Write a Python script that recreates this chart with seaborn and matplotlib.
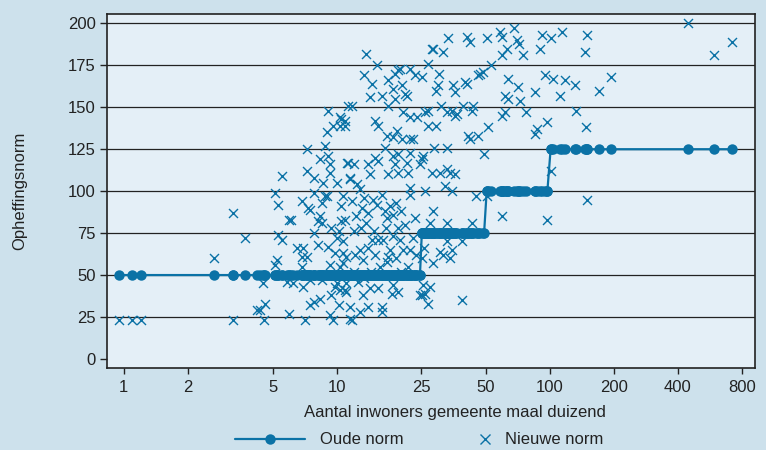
import matplotlib
matplotlib.use("Agg")
import matplotlib.pyplot as plt
import pandas as pd
import seaborn as sns
from matplotlib.lines import Line2D
from matplotlib.ticker import NullLocator

# Old norm classes (a step per population class)
oude_klassen = [50, 75, 100, 125]

# Inhabitants (x 1000) and new norm, grouped by old norm class
inwoners_50 = [
    0.95, 1.10, 1.20, 3.27, 2.66, 3.27, 3.71, 4.52, 4.21, 4.36, 4.60, 4.57,
    9.13, 10.4, 10.9, 9.6, 10.4, 10.9, 8.98, 8.81, 7.23, 9.13, 8.35, 9.3, 11.2, 7.23, 9.3, 5.53, 7.8, 11.3,
    8.66, 10.0, 5.12, 7.8, 8.98, 5.31, 6.85, 7.36, 7.5, 8.5, 8.8, 10.7, 10.5, 6.0, 6.07, 8.35, 8.2, 8.5, 10.5, 10.9,
    9.45, 10.2, 5.31, 5.53, 7.8, 8.2, 9.13, 10.0, 10.7, 6.48, 6.97, 6.85, 7.23, 5.22, 9.78, 10.7, 5.12, 6.85, 9.3, 10.4,
    5.84, 6.24, 6.97, 7.5, 8.5, 9.78, 10.4, 10.9, 9.45, 7.5, 7.8, 8.35, 5.95, 10.2, 9.3, 7.08, 9.6, 10.0,
    13.7, 15.5, 13.5, 14.6, 17.4, 19.4, 18.8, 22.1, 23.3, 18.4, 20.2, 20.9, 21.3, 14.3, 16.3, 18.8, 17.4, 11.8, 19.8,
    10.5, 15.1, 15.7, 20.5, 22.1, 23.7, 17.2, 18.4, 19.1, 20.2, 22.1, 22.9, 16.8,
    11.3, 12.0, 14.0, 15.1, 15.7, 18.4, 19.4, 22.1, 18.8, 21.3, 24.6, 14.3, 17.4, 19.4, 21.7, 11.5,
    11.5, 22.1, 22.1, 16.3, 12.9, 11.8, 13.1, 14.0, 15.4, 17.8, 18.4, 17.2, 23.3, 13.8, 12.0,
    14.6, 15.7, 16.5, 18.4, 19.8, 20.5, 22.1, 17.8, 12.9, 12.2, 13.3, 11.1, 10.7, 17.4, 17.2, 22.9, 21.7, 16.0,
    11.1, 12.6, 14.3, 15.7, 18.4, 19.4, 11.1, 13.3, 18.1, 24.6, 12.9, 14.0, 16.3, 16.3, 11.5, 11.8, 11.5,
    12.5, 13.5, 14.8, 16.8, 19.0, 20.0, 21.0, 12.3, 13.0, 15.0, 17.0, 19.5, 14.0, 15.2, 19.0, 23.5, 12.0, 14.5, 20.0, 13.5,
]
nieuw_50 = [
    23, 23, 23, 23, 60, 87, 72, 45, 29, 29, 33, 23,
    148, 144, 142, 139, 139, 139, 135, 127, 125, 121, 119, 116, 117, 112, 111, 109, 108, 151,
    105, 105, 99, 99, 97, 92, 94, 90, 89, 93, 97, 97, 91, 83, 83, 85, 82, 81, 82, 83,
    78, 76, 74, 71, 75, 68, 67, 72, 70, 66, 66, 61, 61, 59, 63, 63, 56, 55, 56, 55,
    46, 45, 43, 47, 47, 43, 41, 41, 38, 32, 34, 36, 27, 32, 26, 23, 23, 45,
    182, 175, 169, 164, 166, 172, 170, 173, 169, 161, 163, 158, 157, 156, 157, 155, 151, 151, 173,
    143, 142, 139, 147, 144, 144, 133, 132, 136, 131, 131, 131, 126,
    117, 116, 116, 120, 118, 121, 122, 123, 116, 117, 116, 110, 110, 111, 111, 108,
    107, 102, 98, 98, 101, 94, 90, 87, 92, 91, 86, 84, 84, 81, 76,
    71, 71, 71, 73, 71, 65, 65, 65, 65, 62, 59, 61, 57, 61, 58, 72, 55, 55,
    45, 46, 42, 42, 44, 40, 40, 38, 39, 38, 28, 31, 31, 28, 31, 23, 24,
    104, 96, 95, 88, 93, 88, 80, 85, 78, 76, 78, 78, 66, 62, 60, 62, 52, 52, 52, 48,
]

inwoners_75 = [
    33.4, 40.7, 42.2, 27.9, 28.4, 31.7, 26.9, 25.1, 30.2, 47.1, 46.0, 48.5, 29.9, 29.4, 35.2, 35.9, 40.0, 40.7,
    25.9, 26.9, 31.0, 32.9, 34.6, 36.6, 35.9, 39.3, 43.8, 43.0, 26.9, 29.4, 41.5, 42.2, 46.0, 28.6, 33.0, 49.2,
    25.5, 25.1, 27.9, 30.5, 32.8, 34.0, 35.9, 25.9, 32.3, 34.6, 45.3, 28.3, 27.4, 32.8, 43.4,
    25.7, 32.8, 34.6, 38.6, 30.5, 31.6, 34.0, 28.2, 27.4, 25.5, 25.1, 26.9, 38.9, 25.9, 25.2,
]
nieuw_75 = [
    191, 192, 189, 185, 185, 183, 176, 168, 170, 170, 169, 171, 163, 160, 163, 159, 165, 164,
    147, 148, 151, 147, 148, 146, 145, 151, 151, 148, 139, 139, 133, 131, 133, 126, 126, 122,
    121, 119, 111, 111, 113, 111, 110, 100, 103, 100, 97, 88, 81, 81, 81,
    66, 70, 65, 70, 64, 62, 60, 57, 43, 44, 38, 33, 35, 39, 60,
]

inwoners_100 = [
    50.6, 58.5, 59.5, 68.0, 59.5, 63.3, 53.3, 64.0, 61.6, 64.0, 51.5, 59.5, 61.6, 50.6, 59.5,
    70.0, 72.0, 74.6, 92.3, 90.0, 71.2, 72.6, 85.3, 95.0, 77.0, 97.5, 86.9, 85.3, 96.8,
]
nieuw_100 = [
    191, 195, 192, 197, 181, 185, 175, 167, 157, 155, 138, 145, 147, 97, 85,
    190, 188, 181, 193, 185, 162, 154, 159, 169, 147, 141, 137, 134, 83,
]

inwoners_125 = [101, 101, 104, 112, 114, 118, 132, 133, 147, 148, 149, 150, 170, 195, 447, 590, 715]
nieuw_125 = [191, 112, 167, 157, 195, 166, 163, 148, 183, 138, 95, 193, 160, 168, 200, 181, 189]

x_ticks = [1, 2, 5, 10, 25, 50, 100, 200, 400, 800]
y_ticks = [0, 25, 50, 75, 100, 125, 150, 175, 200]

groepen = [
    (inwoners_50, nieuw_50),
    (inwoners_75, nieuw_75),
    (inwoners_100, nieuw_100),
    (inwoners_125, nieuw_125),
]
frames = []
for klasse, (inw, nw) in zip(oude_klassen, groepen):
    frames.append(pd.DataFrame({"inwoners": inw, "nieuw": nw, "oud": klasse}))
df = pd.concat(frames, ignore_index=True)

BLAUW = "#0b72a6"
BUITEN = "#cde1ec"
BINNEN = "#e4eff7"
DONKER = "#222222"

sns.set_theme(style="white")
plt.rcParams["font.family"] = ["Liberation Sans", "DejaVu Sans"]

fig = plt.figure(figsize=(7.66, 4.5), dpi=100, facecolor=BUITEN)
ax = fig.add_axes([107 / 766, 1 - 368 / 450, 648 / 766, 354 / 450])
ax.set_facecolor(BINNEN)
ax.set_xscale("log")

sns.scatterplot(data=df, x="inwoners", y="nieuw", marker="x", color=BLAUW,
                s=42, linewidth=1.0, ax=ax, zorder=3, legend=False)
sns.lineplot(data=df, x="inwoners", y="oud", estimator=None, sort=True,
             marker="o", markersize=7.5, markeredgewidth=0, color=BLAUW,
             linewidth=1.6, ax=ax, zorder=4, legend=False)

ax.set_xlim(0.835, 920)
ax.set_ylim(-5.4, 205.6)
ax.set_xticks(x_ticks)
ax.set_xticklabels([str(t) for t in x_ticks])
ax.xaxis.set_minor_locator(NullLocator())
ax.set_yticks(y_ticks)
ax.set_yticklabels([str(t) for t in y_ticks])

ax.yaxis.grid(True, color=DONKER, linewidth=0.9, zorder=1)
ax.set_axisbelow(True)
ax.get_ygridlines()[0].set_visible(False)

for sp in ax.spines.values():
    sp.set_visible(True)
    sp.set_color(DONKER)
    sp.set_linewidth(1.2)

ax.tick_params(axis="y", left=True, length=5, width=1, color=DONKER,
               labelsize=12, labelcolor="#222222", pad=3)
ax.tick_params(axis="x", bottom=True, length=4, width=1, color=DONKER,
               labelsize=12, labelcolor="#222222", pad=5)

ax.set_xlabel("Aantal inwoners gemeente maal duizend", fontsize=12, color="#222222")
ax.xaxis.set_label_coords(0.537, -0.105)
ax.set_ylabel("Opheffingsnorm", fontsize=12, color="#222222")
ax.yaxis.set_label_coords(-0.123, 0.5)

h_oud = Line2D([], [], color=BLAUW, marker="o", markersize=7.5, markeredgewidth=0, linewidth=1.6)
h_nieuw = Line2D([], [], color=BLAUW, marker="x", markersize=6.5, markeredgewidth=1.0, linestyle="none")

fig.legend([h_oud], ["Oude norm"], loc="center left",
           bbox_to_anchor=(235 / 766, 1 - 440 / 450), frameon=False,
           handlelength=4.2, handletextpad=0.9, borderpad=0, borderaxespad=0,
           prop={"size": 12}, labelcolor="#222222")
fig.legend([h_nieuw], ["Nieuwe norm"], loc="center left",
           bbox_to_anchor=(477 / 766, 1 - 440 / 450), frameon=False,
           handlelength=1.0, handletextpad=0.7, borderpad=0, borderaxespad=0,
           prop={"size": 12}, labelcolor="#222222")

fig.savefig("out.png", dpi=100, facecolor=BUITEN)
